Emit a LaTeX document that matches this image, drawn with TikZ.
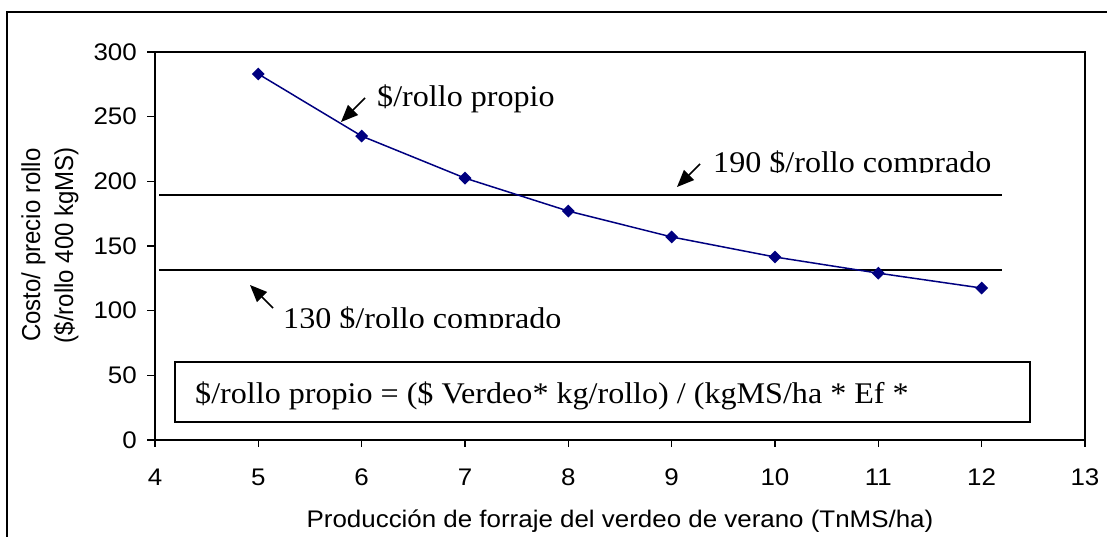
\documentclass[tikz,border=0pt]{standalone}
\usepackage{fontspec}
\setsansfont{Liberation Sans}
\newfontfamily\axisfont[FakeStretch=1.08]{Liberation Sans}
\newfontfamily\notefont[FakeStretch=1.07]{Liberation Serif}
\usetikzlibrary{arrows.meta,shapes.geometric}
\definecolor{serienavy}{RGB}{0,0,128}
\tikzset{
  ticklbl/.style={font=\axisfont\fontsize{24}{28}\selectfont, inner sep=0pt},
  notelbl/.style={font=\notefont\fontsize{30}{34}\selectfont, inner sep=0pt, anchor=base west},
  punto/.style={diamond, fill=serienavy, inner sep=0pt, minimum size=13pt},
  flecha/.style={line width=1.5pt, -{Triangle[length=17pt,width=14pt]}},
  linea/.style={line width=1.5pt},
}

\begin{document}
\begin{tikzpicture}[x=1pt,y=-1pt]
  \useasboundingbox (0,0) rectangle (1107,537);
  \clip (0,0) rectangle (1107,537);
  % marco
  \draw[line width=1.3pt] (7,560) -- (7,12) -- (1130,12);

  % area del grafico, en unidades de datos
  \begin{scope}[shift={(-258.33,440)}, x=103.33pt, y=1.2933pt]
    \draw[line width=1.3pt] (4,0) rectangle (13,300);
    \foreach \v in {0,50,...,300}{
      \draw[line width=1.3pt] (4,\v) -- ++(-8pt,0pt);
      \node[ticklbl, anchor=east] (ytick\v) at ([xshift=-18pt]4,\v) {\v};
    }
    \foreach \x in {4,...,13}{
      \draw[line width=1.3pt] (\x,0) -- ++(0pt,-7pt);
      \node[ticklbl, anchor=base] (xtick\x) at ([yshift=-45pt]\x,0) {\x};
    }
    % rollos comprados
    \coordinate (c190a) at (4.04,189.5);
    \coordinate (c190b) at (12.2,189.5);
    \coordinate (c130a) at (4.04,131.5);
    \coordinate (c130b) at (12.2,131.5);
    \draw[linea] (c190a) -- (c190b);
    \draw[linea] (c130a) -- (c130b);
    % rollo propio
    \foreach \x/\v in {5/283,6/235,7/202.5,8/177,9/157,10/141.5,11/129,12/117.5}
      \node[punto] (p\x) at (\x,\v) {};
    \draw[serienavy, line width=1.5pt] (p5.center) -- (p6.center) -- (p7.center)
      -- (p8.center) -- (p9.center) -- (p10.center) -- (p11.center) -- (p12.center);
  \end{scope}

  % textos de los ejes
  \node[ticklbl, anchor=base] (xtitulo) at (620,527)
    {Producción de forraje del verdeo de verano (TnMS/ha)};
  \node[font=\sffamily\fontsize{24}{33}\selectfont, rotate=90, align=center, inner sep=0pt]
    (ytitulo) at (50,245)
    {\scalebox{1}[1.08]{Costo/ precio rollo}\\\scalebox{1}[1.08]{(\$/rollo 400 kgMS)}};

  % anotaciones
  \coordinate (propioT) at (365,98);
  \coordinate (propioH) at (341,122);
  \draw[flecha] (propioT) -- (propioH);
  \node[notelbl] (lblpropio) at (377,107) {\$/rollo propio};

  \coordinate (c190T) at (700,164);
  \coordinate (c190H) at (677,187);
  \draw[flecha] (c190T) -- (c190H);
  \begin{scope}
    \clip (705,140) rectangle (1010,172.5);
    \node[notelbl] (lbl190) at (713,173) {190 \$/rollo comprado};
  \end{scope}

  \coordinate (c130T) at (273,308);
  \coordinate (c130H) at (250,285);
  \draw[flecha] (c130T) -- (c130H);
  \begin{scope}
    \clip (278,295) rectangle (600,327.5);
    \node[notelbl] (lbl130) at (283,328) {130 \$/rollo comprado};
  \end{scope}

  % formula
  \coordinate (formA) at (175,362);
  \coordinate (formB) at (1030,422);
  \draw[linea] (formA) rectangle (formB);
  \node[notelbl] (formula) at (195,403)
    {\$/rollo propio = (\$ Verdeo* kg/rollo) / (kgMS/ha * Ef *};
\end{tikzpicture}
\end{document}
